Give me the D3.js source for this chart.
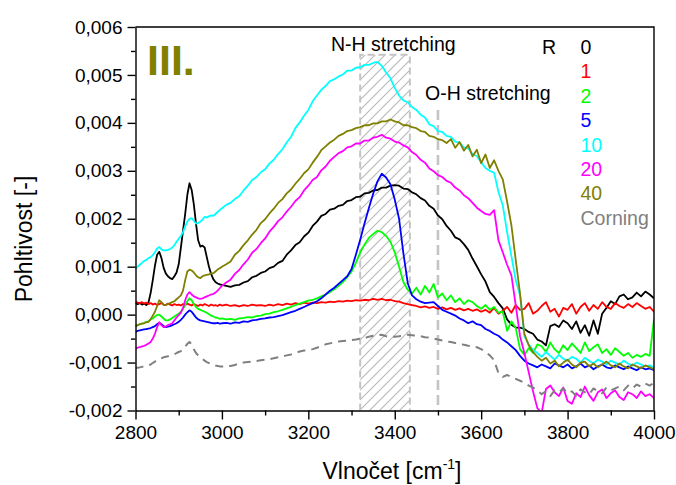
<!DOCTYPE html>
<html>
<head>
<meta charset="utf-8">
<script src="https://cdn.jsdelivr.net/npm/d3@7/dist/d3.min.js"></script>
<style>
  body { margin: 0; background: #fff; }
  svg { display: block; font-family: "Liberation Sans", Arial, sans-serif; }
</style>
</head>
<body>
<svg id="chart" width="676" height="485"></svg>
<script>
// Sampling grid of the spectra [cm-1]: 5 cm-1 steps up to 2995, then 10 cm-1 steps
const wavenumbers = [...d3.range(2800, 3000, 5), ...d3.range(3000, 4001, 10)];

// Absorbance values in units of 1e-3
const UNIT = 1e-3;

const r0 = [
  0.24,0.22,0.24,0.21,0.23,0.20,0.25,0.45,0.72,1.02,
  1.25,1.31,1.18,0.98,0.86,0.80,0.76,0.74,0.80,0.88,
  1.05,1.40,1.75,2.10,2.50,2.74,2.60,2.30,1.90,1.55,
  1.42,1.44,1.40,1.20,1.00,0.85,0.74,0.68,0.65,0.63,
  0.62,0.60,0.58,0.61,0.62,0.67,0.70,0.78,0.81,0.87,
  0.90,0.97,1.00,1.08,1.12,1.25,1.34,1.45,1.51,1.63,
  1.71,1.85,1.94,2.06,2.10,2.19,2.21,2.27,2.29,2.37,
  2.39,2.45,2.46,2.53,2.54,2.59,2.60,2.65,2.65,2.69,
  2.70,2.69,2.63,2.62,2.55,2.51,2.43,2.38,2.27,2.21,
  2.07,1.99,1.85,1.75,1.61,1.57,1.47,1.35,1.17,1.01,
  0.84,0.69,0.47,0.37,0.24,0.13,-0.10,-0.21,-0.27,-0.27,
  -0.30,-0.36,-0.40,-0.52,-0.56,-0.64,-0.24,-0.20,-0.26,-0.12,
  -0.18,-0.30,-0.14,-0.38,-0.22,-0.44,-0.12,-0.40,0.02,0.14,
  0.28,0.22,0.38,0.42,0.32,0.36,0.46,0.38,0.48,0.42,
  0.34
];

const r1 = [
  0.27,0.25,0.24,0.26,0.23,0.25,0.22,0.24,0.21,0.23,
  0.20,0.22,0.24,0.21,0.20,0.23,0.21,0.19,0.22,0.20,
  0.21,0.19,0.22,0.20,0.23,0.21,0.19,0.22,0.20,0.18,
  0.21,0.19,0.22,0.20,0.18,0.21,0.19,0.20,0.18,0.21,
  0.19,0.21,0.18,0.20,0.17,0.20,0.18,0.21,0.19,0.20,
  0.18,0.21,0.19,0.22,0.20,0.23,0.21,0.24,0.22,0.25,
  0.23,0.25,0.24,0.26,0.25,0.27,0.26,0.28,0.27,0.29,
  0.28,0.30,0.29,0.31,0.30,0.33,0.31,0.33,0.30,0.31,
  0.28,0.27,0.24,0.22,0.20,0.18,0.15,0.17,0.14,0.16,
  0.12,0.15,0.11,0.14,0.10,0.13,0.09,0.12,0.08,0.11,
  0.06,0.10,0.04,0.14,0.02,0.08,0.16,0.04,0.20,0.10,
  0.12,0.24,0.02,0.08,0.18,0.26,0.06,0.12,-0.04,0.14,
  0.10,0.22,0.02,0.16,0.24,0.08,0.20,0.12,0.26,0.16,
  0.12,0.24,0.18,0.14,0.22,0.16,0.24,0.18,0.12,0.16,
  0.06
];

const r2 = [
  -0.24,-0.22,-0.20,-0.19,-0.17,-0.15,-0.14,-0.10,-0.08,-0.04,
  -0.01,0.00,-0.04,-0.08,-0.12,-0.12,-0.10,-0.07,-0.04,-0.01,
  0.02,0.06,0.12,0.20,0.28,0.34,0.30,0.22,0.16,0.12,
  0.10,0.08,0.06,0.04,0.01,-0.02,-0.04,-0.06,-0.07,-0.09,
  -0.08,-0.10,-0.09,-0.11,-0.08,-0.07,-0.05,-0.06,-0.03,-0.02,
  0.01,0.02,0.05,0.07,0.10,0.13,0.16,0.20,0.23,0.26,
  0.29,0.31,0.34,0.38,0.42,0.47,0.53,0.60,0.68,0.78,
  0.90,1.08,1.30,1.46,1.60,1.68,1.75,1.72,1.64,1.52,
  1.30,1.00,0.68,0.52,0.44,0.56,0.42,0.60,0.46,0.64,
  0.36,0.44,0.30,0.40,0.26,0.34,0.22,0.30,0.26,0.18,
  0.12,0.20,0.10,0.16,0.04,0.06,-0.34,-0.14,-0.28,-0.72,
  -0.84,-0.70,-0.80,-0.62,-0.66,-0.78,-0.58,-0.72,-0.80,-0.64,
  -0.74,-0.60,-0.70,-0.80,-0.58,-0.76,-0.68,-0.62,-0.80,-0.72,
  -0.84,-0.70,-0.78,-0.86,-0.80,-0.90,-0.84,-0.88,-0.82,-0.86,
  -0.10
];

const r5 = [
  -0.36,-0.34,-0.33,-0.32,-0.31,-0.30,-0.29,-0.28,-0.26,-0.24,
  -0.20,-0.17,-0.20,-0.24,-0.26,-0.25,-0.24,-0.22,-0.20,-0.18,
  -0.15,-0.11,-0.06,0.00,0.05,0.09,0.06,0.00,-0.06,-0.10,
  -0.12,-0.13,-0.14,-0.15,-0.16,-0.17,-0.18,-0.18,-0.17,-0.19,
  -0.18,-0.17,-0.19,-0.16,-0.17,-0.14,-0.15,-0.12,-0.11,-0.09,
  -0.08,-0.06,-0.05,-0.03,-0.01,0.02,0.05,0.08,0.12,0.16,
  0.20,0.24,0.28,0.34,0.42,0.50,0.56,0.64,0.72,0.80,
  0.95,1.25,1.56,1.90,2.22,2.52,2.78,2.94,2.86,2.72,
  2.40,2.00,1.28,0.66,0.40,0.32,0.27,0.24,0.25,0.26,
  0.18,0.10,0.06,0.02,-0.02,-0.08,-0.12,-0.18,-0.14,-0.20,
  -0.22,-0.30,-0.34,-0.40,-0.44,-0.52,-0.58,-0.66,-0.74,-0.86,
  -0.96,-1.02,-1.06,-1.10,-1.04,-1.08,-1.12,-1.02,-1.06,-1.10,
  -1.04,-1.12,-1.08,-1.02,-1.10,-1.06,-1.14,-1.08,-1.04,-1.10,
  -1.12,-1.06,-1.10,-1.14,-1.08,-1.12,-1.16,-1.10,-1.14,-1.12,
  -1.16
];

const r10 = [
  0.96,1.00,1.04,1.08,1.12,1.14,1.18,1.20,1.24,1.30,
  1.38,1.41,1.36,1.34,1.34,1.35,1.37,1.40,1.45,1.52,
  1.58,1.64,1.72,1.84,1.94,2.00,2.01,1.96,1.90,1.91,
  1.94,1.98,2.04,2.03,2.05,2.07,2.06,2.10,2.14,2.18,
  2.22,2.29,2.33,2.41,2.47,2.59,2.69,2.81,2.87,2.97,
  3.03,3.15,3.23,3.35,3.45,3.59,3.71,3.89,4.01,4.15,
  4.27,4.45,4.57,4.69,4.77,4.87,4.91,4.97,5.01,5.09,
  5.09,5.15,5.16,5.21,5.21,5.25,5.27,5.19,5.05,4.93,
  4.73,4.57,4.47,4.43,4.33,4.27,4.17,4.11,3.97,3.93,
  3.83,3.81,3.73,3.71,3.61,3.59,3.49,3.47,3.35,3.31,
  3.18,3.06,3.00,2.96,2.56,2.28,1.72,1.22,0.72,0.40,
  -0.45,-0.62,-0.74,-0.80,-0.88,-0.78,-0.86,-0.94,-0.84,-0.92,
  -0.96,-0.88,-0.92,-1.00,-0.90,-0.96,-1.02,-0.94,-0.98,-1.04,
  -0.96,-1.00,-1.04,-0.96,-1.02,-1.06,-1.00,-1.04,-1.08,-1.06,
  -1.10
];

const r20 = [
  -0.71,-0.69,-0.68,-0.66,-0.65,-0.63,-0.60,-0.57,-0.50,-0.40,
  -0.26,-0.16,-0.22,-0.26,-0.25,-0.22,-0.20,-0.18,-0.12,-0.06,
  -0.01,0.04,0.14,0.30,0.42,0.47,0.42,0.38,0.36,0.34,
  0.33,0.34,0.36,0.38,0.40,0.42,0.43,0.46,0.50,0.55,
  0.60,0.67,0.73,0.85,0.93,1.05,1.15,1.29,1.37,1.49,
  1.59,1.73,1.83,1.95,2.03,2.15,2.25,2.37,2.45,2.59,
  2.69,2.81,2.87,3.01,3.09,3.21,3.29,3.37,3.41,3.49,
  3.51,3.57,3.57,3.63,3.63,3.69,3.71,3.75,3.69,3.67,
  3.61,3.59,3.53,3.49,3.39,3.33,3.23,3.17,3.05,2.99,
  2.91,2.87,2.79,2.75,2.65,2.59,2.49,2.43,2.33,2.23,
  2.16,2.10,2.08,2.18,1.55,1.30,1.04,0.82,0.20,-0.45,
  -0.80,-1.20,-1.60,-1.95,-2.05,-1.55,-1.48,-1.62,-1.70,-1.52,
  -1.80,-1.86,-1.64,-1.72,-1.50,-1.68,-1.80,-1.62,-1.56,-1.74,
  -1.64,-1.58,-1.72,-1.78,-1.62,-1.66,-1.74,-1.60,-1.70,-1.66,
  -1.74
];

const r40 = [
  -0.24,-0.22,-0.20,-0.19,-0.18,-0.16,-0.15,-0.10,-0.02,0.06,
  0.18,0.30,0.26,0.20,0.20,0.22,0.24,0.26,0.28,0.32,
  0.36,0.40,0.50,0.72,0.90,0.94,0.92,0.88,0.82,0.78,
  0.76,0.80,0.82,0.83,0.84,0.86,0.86,0.90,0.94,0.97,
  1.00,1.05,1.11,1.25,1.33,1.45,1.55,1.67,1.77,1.91,
  1.99,2.11,2.21,2.33,2.41,2.53,2.61,2.73,2.83,2.95,
  3.03,3.17,3.29,3.43,3.51,3.59,3.65,3.73,3.77,3.83,
  3.85,3.89,3.91,3.95,3.95,3.99,3.99,4.03,4.03,4.07,
  4.03,4.01,3.95,3.95,3.91,3.89,3.83,3.81,3.73,3.71,
  3.66,3.64,3.58,3.66,3.48,3.60,3.42,3.54,3.30,3.44,
  3.16,3.34,3.06,3.22,3.00,2.82,2.36,1.86,1.14,0.44,
  -0.40,-0.64,-0.78,-0.88,-0.96,-0.90,-1.02,-0.96,-1.08,-1.00,
  -0.94,-1.04,-1.10,-1.00,-0.98,-1.08,-1.02,-1.10,-1.04,-0.98,
  -1.06,-1.10,-1.02,-1.08,-1.12,-1.04,-1.08,-1.12,-1.06,-1.10,
  -1.14
];

const corning = [
  -1.11,-1.11,-1.10,-1.09,-1.08,-1.07,-1.06,-1.04,-1.01,-0.98,
  -0.95,-0.92,-0.91,-0.89,-0.88,-0.87,-0.86,-0.85,-0.83,-0.80,
  -0.78,-0.76,-0.73,-0.67,-0.61,-0.57,-0.62,-0.72,-0.80,-0.85,
  -0.88,-0.92,-0.96,-0.99,-1.01,-1.03,-1.04,-1.06,-1.07,-1.08,
  -1.08,-1.08,-1.07,-1.05,-1.02,-1.00,-0.99,-0.98,-0.97,-0.95,
  -0.94,-0.93,-0.91,-0.89,-0.87,-0.85,-0.83,-0.80,-0.77,-0.75,
  -0.74,-0.72,-0.69,-0.66,-0.62,-0.60,-0.58,-0.56,-0.55,-0.54,
  -0.53,-0.52,-0.50,-0.49,-0.46,-0.44,-0.43,-0.42,-0.45,-0.47,
  -0.46,-0.45,-0.43,-0.42,-0.43,-0.44,-0.45,-0.47,-0.48,-0.50,
  -0.52,-0.54,-0.56,-0.57,-0.59,-0.60,-0.63,-0.65,-0.66,-0.68,
  -0.72,-0.78,-0.85,-0.95,-1.22,-1.30,-1.26,-1.30,-1.34,-1.38,
  -1.42,-1.48,-1.52,-1.58,-1.66,-1.60,-1.70,-1.58,-1.62,-1.54,
  -1.64,-1.60,-1.70,-1.56,-1.62,-1.66,-1.54,-1.60,-1.64,-1.52,
  -1.58,-1.54,-1.50,-1.58,-1.48,-1.54,-1.46,-1.50,-1.44,-1.48,
  -1.42
];

const seriesLabels = ["0", "1", "2", "5", "10", "20", "40", "Corning"];
const seriesValues = [r0, r1, r2, r5, r10, r20, r40, corning];
const seriesColors = ["#000000", "#ff0000", "#00ff00", "#0000ff", "#00ffff", "#ff00ff", "#808000", "#808080"];

const xTicks = [2800, 3000, 3200, 3400, 3600, 3800, 4000];
const yTicks = [-0.002, -0.001, 0, 0.001, 0.002, 0.003, 0.004, 0.005, 0.006];

// Highlighted bands [cm-1] and their upper reach (units of 1e-3)
const nhBand = [3320, 3435];
const nhBandTop = 5.42;
const ohLine = 3500;
const ohLineTop = 4.27;

// ---------------------------------------------------------------
const svg = d3.select("#chart");
const plot = { left: 135.5, right: 654, top: 27, bottom: 410.5 };

const x = d3.scaleLinear().domain([2800, 4000]).range([plot.left, plot.right]);
const y = d3.scaleLinear().domain([-0.002, 0.006]).range([plot.bottom, plot.top]);

const locale = d3.formatLocale({ decimal: ",", thousands: "", grouping: [3], currency: ["", ""], minus: "-" });
const yFmt = locale.format(".3f");

const defs = svg.append("defs");
defs.append("clipPath").attr("id", "plot-clip")
  .append("rect")
  .attr("x", plot.left).attr("y", plot.top)
  .attr("width", plot.right - plot.left).attr("height", plot.bottom - plot.top);

const hatch = defs.append("pattern")
  .attr("id", "hatch")
  .attr("patternUnits", "userSpaceOnUse")
  .attr("width", 10).attr("height", 10);
hatch.append("path")
  .attr("d", "M-1,1 l2,-2 M0,10 l10,-10 M9,11 l2,-2")
  .attr("stroke", "#b8b8b8").attr("stroke-width", 1.1);

// N-H band: hatched rectangle with dashed outline
const bandG = svg.append("g");
bandG.append("rect")
  .attr("x", x(nhBand[0])).attr("y", y(nhBandTop * UNIT))
  .attr("width", x(nhBand[1]) - x(nhBand[0]))
  .attr("height", plot.bottom - y(nhBandTop * UNIT))
  .attr("fill", "url(#hatch)");
bandG.append("path")
  .attr("d", `M${x(nhBand[0])},${plot.bottom} V${y(nhBandTop * UNIT)} H${x(nhBand[1])} V${plot.bottom}`)
  .attr("fill", "none").attr("stroke", "#c4c4c4").attr("stroke-width", 2)
  .attr("stroke-dasharray", "7,4");

// O-H marker line
svg.append("line")
  .attr("x1", x(ohLine)).attr("x2", x(ohLine))
  .attr("y1", y(ohLineTop * UNIT)).attr("y2", plot.bottom)
  .attr("stroke", "#c4c4c4").attr("stroke-width", 2.6)
  .attr("stroke-dasharray", "10,5");

// Spectra
const line = d3.line()
  .x((d, i) => x(wavenumbers[i]))
  .y(d => y(d * UNIT));

const linesG = svg.append("g").attr("clip-path", "url(#plot-clip)");
seriesValues.forEach((vals, k) => {
  linesG.append("path")
    .datum(vals)
    .attr("d", line)
    .attr("fill", "none")
    .attr("stroke", seriesColors[k])
    .attr("stroke-width", k === 7 ? 2 : 1.8)
    .attr("stroke-linejoin", "round")
    .attr("stroke-dasharray", k === 7 ? "8,6" : null);
});

// Frame
svg.append("path")
  .attr("d", `M${plot.left},${plot.top} H${plot.right} V${plot.bottom}`)
  .attr("fill", "none").attr("stroke", "#000").attr("stroke-width", 1.4);

// Axes
const xAxis = svg.append("g")
  .attr("transform", `translate(0,${plot.bottom})`)
  .call(d3.axisBottom(x).tickValues(xTicks).tickFormat(d3.format("d")).tickSize(9).tickSizeOuter(0).tickPadding(6));
svg.append("g")
  .attr("transform", `translate(0,${plot.bottom})`)
  .call(d3.axisBottom(x).tickValues(d3.range(2900, 4000, 200)).tickFormat("").tickSize(5).tickSizeOuter(0))
  .call(g => g.select(".domain").remove());

const yAxis = svg.append("g")
  .attr("transform", `translate(${plot.left},0)`)
  .call(d3.axisLeft(y).tickValues(yTicks).tickFormat(yFmt).tickSize(8).tickSizeOuter(0).tickPadding(5));
svg.append("g")
  .attr("transform", `translate(${plot.left},0)`)
  .call(d3.axisLeft(y).tickValues(d3.range(-0.0015, 0.006, 0.001)).tickFormat("").tickSize(4.5).tickSizeOuter(0))
  .call(g => g.select(".domain").remove());

svg.selectAll(".tick line").attr("stroke", "#000").attr("stroke-width", 1.4);
svg.selectAll(".domain").attr("stroke", "#000").attr("stroke-width", 1.4);
[xAxis, yAxis].forEach(g => g.selectAll("text")
  .attr("font-family", "Liberation Sans, Arial, sans-serif")
  .attr("font-size", 19).attr("fill", "#000"));

// Axis titles
svg.append("text")
  .attr("transform", "translate(32,239) rotate(-90)")
  .attr("text-anchor", "middle")
  .attr("font-size", 23)
  .text("Pohltivost [-]");

const xt = svg.append("text")
  .attr("x", 392).attr("y", 479)
  .attr("text-anchor", "middle")
  .attr("font-size", 23);
xt.append("tspan").text("Vlnočet [cm");
xt.append("tspan").attr("dy", -10).attr("font-size", 14).text("-1");
xt.append("tspan").attr("dy", 10).text("]");

// Annotations
svg.append("text").attr("x", 147).attr("y", 75)
  .attr("font-size", 43).attr("font-weight", "bold").attr("fill", "#808000")
  .text("III.");
svg.append("text").attr("x", 331).attr("y", 51)
  .attr("font-size", 19.5).text("N-H stretching");
svg.append("text").attr("x", 425).attr("y", 100)
  .attr("font-size", 19.5).text("O-H stretching");

// Legend
svg.append("text").attr("x", 542).attr("y", 54).attr("font-size", 19.5).text("R");
const legend = svg.append("g");
seriesLabels.forEach((lab, k) => {
  legend.append("text")
    .attr("x", 580.5).attr("y", 54 + k * 24.4)
    .attr("font-size", 19.5)
    .attr("fill", seriesColors[k])
    .text(lab);
});
</script>
</body>
</html>
